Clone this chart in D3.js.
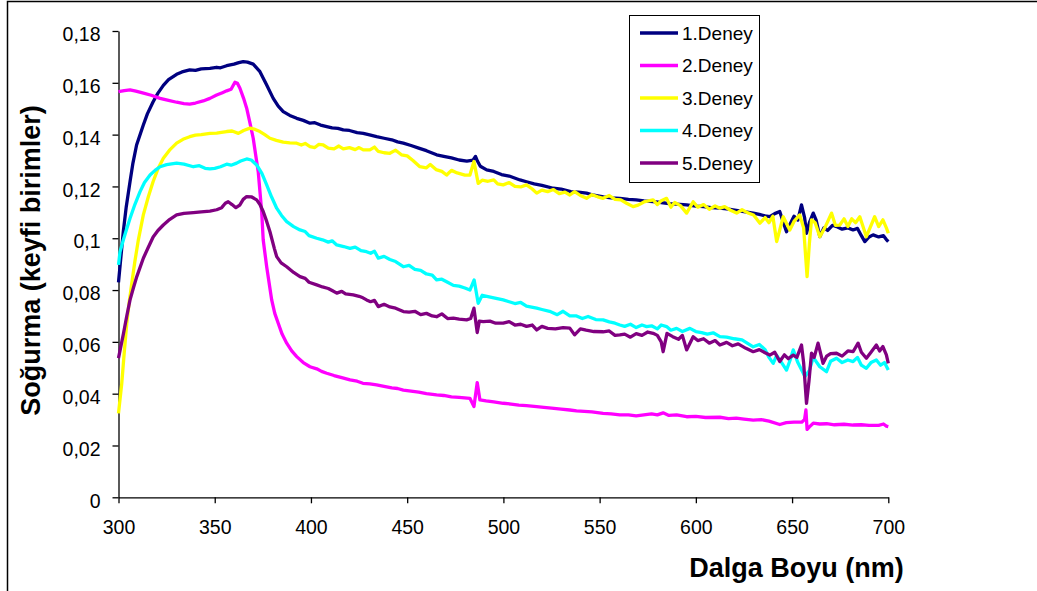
<!DOCTYPE html>
<html>
<head>
<meta charset="utf-8">
<script src="https://cdn.jsdelivr.net/npm/d3@7"></script>
<style>
  html, body { margin: 0; padding: 0; background: #fff; }
  svg { display: block; font-family: "Liberation Sans", Arial, sans-serif; }
</style>
</head>
<body>
<svg id="chart" width="1037" height="591"></svg>
<script>
// Absorbance spectra, [wavelength (nm), absorbance (arbitrary units)]
const deney1 = [[300,0.083],[302.5,0.1026],[304,0.112],[306,0.1219],[307.5,0.129],[309.4,0.136],[312.9,0.1437],[315,0.148],[318,0.1527],[320.5,0.156],[323.3,0.159],[326,0.1612],[330.2,0.1633],[333,0.1642],[337,0.165],[340,0.1648],[343,0.1654],[347.5,0.1656],[351,0.166],[353,0.1658],[356.2,0.1666],[360,0.1672],[362.5,0.1678],[364.8,0.1682],[367,0.168],[370,0.1672],[373.5,0.1643],[377,0.1592],[380.4,0.154],[383,0.151],[385.6,0.1489],[389,0.1474],[392.6,0.1463],[396,0.1455],[399.5,0.1444],[402,0.1446],[405,0.1437],[408.2,0.1431],[411,0.1426],[414,0.1424],[416.8,0.1418],[420,0.1416],[424,0.1408],[427.2,0.1405],[431,0.1398],[434.1,0.1392],[438,0.1386],[442,0.138],[445,0.1372],[448,0.1367],[452,0.1358],[456,0.1348],[460,0.1338],[465.3,0.1322],[469,0.1316],[473,0.131],[477,0.1302],[481,0.1298],[484.3,0.1302],[485.5,0.1316],[486.5,0.1298],[488,0.1278],[491.3,0.1264],[495,0.1258],[499,0.1246],[503,0.124],[508.6,0.1225],[512,0.1218],[516,0.121],[520,0.1204],[525.9,0.1193],[530,0.119],[535,0.118],[539,0.1178],[543.2,0.1174],[547,0.1166],[552,0.116],[556,0.1156],[560.5,0.1154],[565,0.115],[569,0.1148],[573,0.1144],[577.8,0.1141],[582,0.1138],[586,0.1134],[590,0.1132],[595.2,0.1129],[600,0.1124],[604,0.1122],[608,0.1118],[612.5,0.1116],[617,0.1112],[621,0.1108],[625,0.1103],[629.8,0.1097],[633,0.1092],[636,0.1086],[638.4,0.1083],[641,0.1095],[643.6,0.1103],[645.5,0.106],[647.1,0.1025],[649,0.1055],[651,0.1085],[653,0.107],[654.9,0.1129],[656.5,0.108],[657.5,0.1019],[659,0.106],[661,0.1097],[662.5,0.107],[664.4,0.1006],[666.5,0.104],[668.5,0.103],[671,0.105],[673.1,0.1045],[676,0.1035],[679,0.104],[681.7,0.1032],[684,0.1038],[686,0.101],[687.8,0.0987],[690,0.1005],[692.1,0.1013],[695,0.1005],[697.5,0.101],[699,0.0995],[700,0.0987]];

const deney2 = [[300,0.1566],[303,0.157],[306,0.1573],[309,0.1568],[313,0.156],[317,0.1552],[321.6,0.154],[326,0.1532],[330.2,0.1525],[334,0.152],[337,0.1518],[340,0.1522],[344,0.153],[347.5,0.154],[351,0.1553],[354,0.1562],[356.2,0.1569],[358.5,0.1575],[360.5,0.1602],[361.8,0.1598],[363.1,0.1579],[365,0.154],[366.6,0.1502],[368.3,0.1445],[370,0.1386],[371.3,0.132],[372.6,0.1257],[373.5,0.118],[374.4,0.1103],[375.2,0.0993],[377,0.089],[379.6,0.0762],[381.2,0.071],[383,0.0672],[385,0.063],[387.4,0.0595],[390,0.0565],[392.6,0.0543],[396,0.052],[399.5,0.0504],[403,0.0496],[405.5,0.0486],[408.2,0.0479],[412,0.047],[416,0.0462],[420.3,0.0453],[424,0.0448],[427,0.044],[430.6,0.0438],[434.1,0.0434],[438,0.0428],[442,0.0422],[445,0.042],[448,0.0414],[452,0.041],[456,0.0406],[460,0.04],[465.3,0.0395],[469,0.0393],[473,0.0388],[477,0.0386],[482.6,0.0382],[484.7,0.035],[486.4,0.0443],[487.8,0.0376],[491,0.0372],[495,0.0368],[499.9,0.0363],[504,0.036],[508,0.0356],[512,0.0354],[517.3,0.035],[521,0.0347],[525,0.0344],[530,0.034],[534.5,0.0337],[538,0.0334],[542,0.0332],[546,0.033],[551.8,0.0324],[556,0.0322],[560.5,0.0318],[565,0.0318],[569,0.0314],[573,0.0318],[577,0.0322],[580,0.0318],[583,0.0326],[586,0.0316],[590,0.0318],[595.2,0.0311],[600,0.0312],[605,0.0308],[612.5,0.0309],[617,0.0304],[621,0.0306],[625,0.0302],[629.8,0.0298],[634,0.03],[638,0.0294],[643.6,0.0281],[647,0.0288],[651,0.029],[655,0.029],[656.5,0.03],[657.2,0.0337],[657.8,0.0262],[659,0.0272],[661,0.0286],[664.4,0.0283],[668,0.0284],[672,0.028],[677,0.0282],[681.7,0.0279],[686,0.028],[690,0.0278],[695,0.0278],[697.5,0.0283],[699,0.0275],[700,0.0273]];

const deney3 = [[300,0.0324],[301.7,0.044],[303,0.056],[304.3,0.0672],[305.5,0.075],[306.9,0.0826],[308.5,0.091],[310.3,0.0993],[312.9,0.109],[315.5,0.116],[318,0.1219],[320.5,0.1268],[323.3,0.1309],[326.5,0.134],[330.2,0.1367],[333.5,0.1382],[337,0.1392],[340,0.1398],[343,0.14],[347.5,0.1405],[351,0.1406],[353.5,0.1409],[356.2,0.1412],[359,0.1414],[362.3,0.1405],[365,0.1416],[368.3,0.1425],[371,0.142],[373.5,0.1412],[376,0.14],[378.7,0.1386],[382,0.1378],[385.6,0.1371],[389,0.1368],[392.6,0.1367],[395,0.136],[397,0.1366],[399.5,0.1354],[402,0.135],[404,0.1362],[406.4,0.136],[409,0.1348],[412,0.1345],[414.5,0.1356],[416.8,0.1345],[420,0.135],[423,0.1342],[425,0.135],[427.2,0.1341],[430.6,0.1341],[433,0.1352],[435,0.1335],[438,0.133],[441,0.1328],[444,0.134],[447,0.1322],[450,0.1318],[453,0.13],[456.6,0.1276],[460,0.1272],[462,0.1285],[465,0.1265],[468,0.1258],[470.5,0.1244],[473,0.1262],[476,0.1252],[480,0.1244],[482.6,0.1244],[484.7,0.1296],[486.9,0.1212],[489,0.1224],[492,0.122],[495,0.1225],[497,0.121],[499.9,0.1206],[503,0.1215],[506,0.12],[509,0.1198],[512,0.1206],[515,0.119],[517.3,0.1174],[520,0.1186],[523,0.118],[526,0.1188],[529,0.1172],[532,0.1178],[534.5,0.1167],[537,0.118],[540,0.1165],[543.2,0.1154],[546,0.1168],[549,0.116],[551.8,0.1154],[555,0.1165],[558,0.115],[561,0.1148],[564,0.1135],[567.4,0.1122],[570,0.1128],[573,0.114],[577.8,0.1148],[580,0.113],[582,0.1145],[584.8,0.1154],[587,0.112],[589,0.1138],[592,0.1126],[595.2,0.1097],[598.6,0.1141],[601,0.112],[604,0.113],[607,0.1112],[610,0.1125],[612.5,0.1116],[615,0.1122],[618,0.1108],[621.2,0.1097],[624,0.111],[627,0.1098],[630,0.109],[633.3,0.1058],[636,0.108],[638,0.106],[640,0.1085],[642,0.0987],[645.4,0.1083],[648.8,0.1032],[651,0.1065],[654,0.109],[656,0.104],[657.8,0.0852],[659,0.098],[660.1,0.1071],[662,0.106],[664.4,0.1006],[667,0.104],[670.5,0.1097],[672.5,0.105],[674.8,0.1051],[677,0.1075],[679,0.1045],[681,0.1075],[683,0.106],[685.2,0.1083],[688.6,0.1006],[690.5,0.104],[692.9,0.1083],[695,0.1045],[697.2,0.1071],[699,0.104],[700,0.1019]];

const deney4 = [[300,0.0897],[300.8,0.0948],[302.5,0.0993],[304,0.103],[306,0.1077],[308.5,0.113],[311.2,0.118],[313.5,0.1215],[316.4,0.1244],[319,0.1262],[321.6,0.1276],[325,0.1284],[330.2,0.129],[334,0.1286],[338.9,0.1276],[342,0.128],[345,0.127],[347.5,0.1268],[350,0.127],[353,0.1276],[356.2,0.1286],[358.5,0.1282],[361.4,0.129],[363.5,0.1298],[366.6,0.1306],[369,0.1302],[371.8,0.1283],[374.5,0.125],[377,0.1206],[379.5,0.116],[382.2,0.1116],[384.7,0.1088],[387.4,0.1064],[391,0.1045],[394.3,0.1032],[397,0.1026],[399,0.101],[403,0.1],[406,0.0994],[409,0.0985],[411,0.099],[413.4,0.0974],[417,0.0968],[420.3,0.0961],[423,0.0966],[426,0.0952],[428.9,0.0948],[431,0.0942],[433,0.095],[435,0.0923],[438,0.093],[441,0.0918],[444,0.091],[448,0.089],[451,0.0895],[454,0.088],[457,0.0876],[460,0.0862],[463,0.0858],[465.3,0.0839],[468,0.0842],[471,0.083],[474,0.0818],[477,0.0815],[480,0.0808],[482.6,0.08],[484.8,0.0839],[486.9,0.0749],[489,0.078],[492,0.0775],[495,0.077],[499.9,0.0762],[503,0.0755],[506,0.0748],[509,0.0752],[512,0.0738],[517.3,0.073],[520,0.0725],[524,0.0718],[528,0.0705],[531,0.0718],[534.5,0.07],[538,0.07],[541,0.069],[544,0.0698],[548,0.0686],[551.8,0.0685],[555,0.0677],[558,0.0672],[560.5,0.0665],[563,0.066],[566,0.0668],[569,0.0655],[572,0.0665],[574.4,0.0659],[577,0.0662],[580,0.065],[582,0.0665],[584.8,0.0659],[587,0.0645],[590,0.0652],[593,0.064],[596.9,0.0652],[600,0.064],[603,0.0636],[606,0.063],[609,0.0635],[612.5,0.062],[616,0.0618],[620,0.0612],[624,0.0608],[629.8,0.0581],[633,0.059],[636,0.057],[638,0.054],[640.2,0.0517],[642,0.0548],[645,0.0515],[647.1,0.0491],[649,0.053],[650.6,0.0569],[653,0.052],[656.7,0.0466],[659,0.049],[661,0.054],[664.4,0.0504],[667.9,0.0485],[670,0.0525],[673.1,0.0537],[676,0.052],[679,0.053],[681.7,0.0524],[684,0.054],[686,0.051],[688.6,0.0498],[691,0.052],[693.8,0.053],[696,0.051],[698,0.052],[700,0.0491]];

const deney5 = [[300,0.0537],[302.6,0.0633],[304.3,0.07],[306,0.0762],[307.8,0.081],[309.5,0.0852],[312.9,0.0923],[315.5,0.0965],[318,0.1005],[320.5,0.103],[323.3,0.1051],[326.5,0.1072],[330.2,0.109],[334,0.1096],[338.9,0.1099],[343,0.1102],[347.5,0.1105],[351,0.111],[353.6,0.1118],[355.5,0.1135],[357,0.1141],[359,0.113],[361,0.1118],[363,0.1128],[364.8,0.115],[366.6,0.1161],[369,0.116],[371.8,0.1148],[373.5,0.113],[375.2,0.1103],[377,0.1065],[378.7,0.1025],[381,0.096],[382.2,0.0929],[384.5,0.0905],[387.4,0.089],[391,0.0868],[394.3,0.0852],[397,0.0845],[399,0.083],[403,0.082],[406,0.0812],[409,0.0806],[411,0.0798],[413.4,0.0788],[416,0.0795],[418,0.0785],[422,0.0781],[425,0.0776],[427,0.077],[428.9,0.0762],[431,0.0755],[433,0.076],[435,0.0736],[438,0.0745],[441,0.0735],[444,0.073],[448,0.0717],[451,0.0715],[454,0.0718],[457,0.0705],[460,0.071],[463,0.07],[465.3,0.0697],[468,0.0708],[471,0.069],[474,0.0692],[477,0.0688],[480.9,0.0685],[483,0.069],[484.7,0.073],[486.4,0.0636],[487.5,0.068],[489.5,0.0678],[493,0.068],[496,0.0672],[499.9,0.0672],[503,0.0678],[506,0.0665],[509,0.0668],[512,0.066],[515,0.0665],[517.3,0.0646],[520,0.066],[523,0.0652],[527,0.065],[531,0.0655],[534.5,0.0653],[537,0.0627],[540,0.065],[543,0.0645],[547,0.064],[551.8,0.0639],[555,0.0642],[558,0.0625],[560.5,0.0627],[563,0.063],[566,0.0618],[569,0.0632],[572,0.0625],[575,0.0638],[577.8,0.0633],[580,0.0625],[582,0.06],[583,0.0562],[585,0.0633],[588,0.062],[591,0.061],[593,0.0625],[595.2,0.0569],[598.6,0.062],[601,0.0605],[604,0.0612],[607,0.0595],[610,0.0605],[612.5,0.0588],[616,0.0598],[619,0.0585],[622,0.0592],[626,0.0575],[629.8,0.0562],[633,0.057],[636,0.0558],[638.4,0.0549],[641,0.056],[643.6,0.0524],[646,0.055],[648,0.0535],[650.6,0.0549],[652.5,0.054],[654.9,0.0588],[656,0.052],[657.5,0.0363],[658.8,0.045],[660.1,0.0556],[661.5,0.054],[663.5,0.0595],[666.1,0.0517],[668,0.0545],[670,0.0555],[673.1,0.0556],[676,0.0545],[679,0.0565],[681.7,0.0562],[684.3,0.0595],[686,0.056],[688.6,0.0537],[691,0.056],[693.8,0.0588],[695.5,0.0565],[697.2,0.0582],[699,0.055],[700,0.0517]];

const seriesNames = ["1.Deney", "2.Deney", "3.Deney", "4.Deney", "5.Deney"];
const seriesColors = ["#000080", "#FF00FF", "#FFFF00", "#00FFFF", "#800080"];
const xTicks = [300, 350, 400, 450, 500, 550, 600, 650, 700];
const yTicks = [0, 0.02, 0.04, 0.06, 0.08, 0.1, 0.12, 0.14, 0.16, 0.18];
const xTitle = "Dalga Boyu (nm)";
const yTitle = "Soğurma (keyfi birimler)";

const allSeries = [deney1, deney2, deney3, deney4, deney5];

const svg = d3.select("#chart");

// outer chart frame
svg.append("rect")
  .attr("x", 7.5).attr("y", 1.5)
  .attr("width", 1200).attr("height", 1000)
  .attr("fill", "#fff").attr("stroke", "#000").attr("stroke-width", 1.5);

const x = d3.scaleLinear().domain([300, 700]).range([118.5, 888.3]);
const y = d3.scaleLinear().domain([0, 0.18]).range([497.3, 31]);

const fmt = v => String(+v.toFixed(2)).replace(".", ",");

// y axis
const gy = svg.append("g")
  .attr("transform", `translate(${x.range()[0]},0)`)
  .call(d3.axisLeft(y).tickValues(yTicks).tickFormat(fmt).tickSize(6).tickSizeOuter(0).tickPadding(12));
gy.selectAll("text").attr("dy", "0.5em");

// x axis
const gx = svg.append("g")
  .attr("transform", `translate(0,${y.range()[0]})`)
  .call(d3.axisBottom(x).tickValues(xTicks).tickFormat(d3.format("d")).tickSize(6).tickSizeOuter(0).tickPadding(17));

[gx, gy].forEach(g => {
  g.attr("font-family", null).attr("font-size", null);
  g.selectAll("text").attr("fill", "#000").style("font-size", "19.5px");
  g.selectAll("line").attr("stroke", "#000").attr("stroke-width", 1.3);
  g.select(".domain").attr("stroke", "#000").attr("stroke-width", 1.3);
});

// spectra
const line = d3.line().x(d => x(d[0])).y(d => y(d[1]));
svg.append("g").selectAll("path")
  .data(allSeries)
  .join("path")
  .attr("d", line)
  .attr("fill", "none")
  .attr("stroke", (d, i) => seriesColors[i])
  .attr("stroke-width", 3.3)
  .attr("stroke-linejoin", "round");

// axis titles
svg.append("text")
  .attr("x", 796.5).attr("y", 577)
  .attr("text-anchor", "middle")
  .style("font-size", "27px").style("font-weight", "bold")
  .text(xTitle);

svg.append("text")
  .attr("transform", "translate(40,260.5) rotate(-90)")
  .attr("text-anchor", "middle")
  .style("font-size", "27px").style("font-weight", "bold")
  .text(yTitle);

// legend
const legend = svg.append("g");
legend.append("rect")
  .attr("x", 629.5).attr("y", 15.5).attr("width", 130).attr("height", 167)
  .attr("fill", "#fff").attr("stroke", "#000").attr("stroke-width", 1);
const rowY = d3.scalePoint().domain(seriesNames).range([33, 163]);
const rows = legend.selectAll("g.row").data(seriesNames).join("g")
  .attr("class", "row")
  .attr("transform", d => `translate(0,${rowY(d)})`);
rows.append("line")
  .attr("x1", 640).attr("x2", 678)
  .attr("stroke", (d, i) => seriesColors[i]).attr("stroke-width", 3.3);
rows.append("text")
  .attr("x", 682).attr("dy", "0.36em")
  .style("font-size", "19px")
  .text(d => d);
</script>
</body>
</html>
